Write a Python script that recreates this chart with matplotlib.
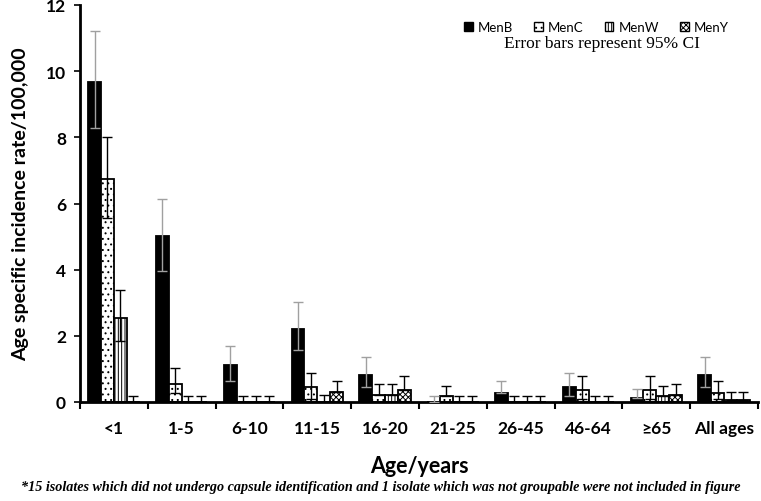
import numpy as np
import matplotlib
matplotlib.use("Agg")
import matplotlib.pyplot as plt
from matplotlib.patches import Patch

# Age groups
AGE_GROUPS = ["<1", "1-5", "6-10", "11-15", "16-20", "21-25", "26-45", "46-64", "≥65", "All ages"]

# Incidence rate per 100,000 and 95% CI bounds
MENB = [9.68, 5.02, 1.12, 2.21, 0.83, 0.0, 0.26, 0.44, 0.11, 0.82]
MENB_LO = [8.27, 3.97, 0.64, 1.58, 0.44, 0.0, 0.26, 0.19, 0.11, 0.44]
MENB_HI = [11.20, 6.14, 1.70, 3.02, 1.35, 0.19, 0.62, 0.87, 0.39, 1.35]

MENC = [6.74, 0.55, 0.0, 0.44, 0.22, 0.17, 0.0, 0.36, 0.37, 0.27]
MENC_LO = [5.56, 0.26, 0.0, 0.09, 0.22, 0.17, 0.0, 0.10, 0.10, 0.10]
MENC_HI = [8.02, 1.02, 0.19, 0.87, 0.54, 0.47, 0.19, 0.79, 0.79, 0.64]

MENW = [2.55, 0.0, 0.0, 0.0, 0.22, 0.0, 0.0, 0.0, 0.17, 0.06]
MENW_LO = [1.85, 0.0, 0.0, 0.0, 0.22, 0.0, 0.0, 0.0, 0.17, 0.06]
MENW_HI = [3.39, 0.19, 0.19, 0.20, 0.54, 0.19, 0.19, 0.19, 0.48, 0.29]

MENY = [0.0, 0.0, 0.0, 0.29, 0.37, 0.0, 0.0, 0.0, 0.21, 0.06]
MENY_LO = [0.0, 0.0, 0.0, 0.29, 0.37, 0.0, 0.0, 0.0, 0.21, 0.06]
MENY_HI = [0.19, 0.19, 0.19, 0.63, 0.79, 0.19, 0.19, 0.19, 0.54, 0.29]

SERIES = [
    ("MenB", MENB, MENB_LO, MENB_HI, "black", "", "#a0a0a0"),
    ("MenC", MENC, MENC_LO, MENC_HI, "white", "...", "black"),
    ("MenW", MENW, MENW_LO, MENW_HI, "white", "|||||", "black"),
    ("MenY", MENY, MENY_LO, MENY_HI, "white", "xxxxxx", "black"),
]

SANS = ["Lato", "DejaVu Sans"]
SERIF = ["Liberation Serif", "DejaVu Serif"]

plt.rcParams["hatch.linewidth"] = 0.7

fig = plt.figure(figsize=(7.61, 5.02), dpi=100)
ax = fig.add_axes([80 / 761, 99 / 502, 678 / 761, 397 / 502])

x = np.arange(len(AGE_GROUPS))
width = 0.19
legend_handles = []
for k, (name, vals, lo, hi, face, hatch, ecol) in enumerate(SERIES):
    pos = x + (k - 1.5) * width
    vals = np.array(vals)
    ax.bar(pos, vals, width, color=face, edgecolor="black", linewidth=1.3,
           hatch=hatch, zorder=2)
    yerr = [vals - np.array(lo), np.array(hi) - vals]
    ax.errorbar(pos, vals, yerr=yerr, fmt="none", ecolor=ecol,
                elinewidth=1.0, capsize=3.5, capthick=1.0, zorder=3)
    legend_handles.append(Patch(facecolor=face, edgecolor="black",
                                hatch=hatch, linewidth=1.0, label=name))

ax.set_xlim(-0.5, len(AGE_GROUPS) - 0.5)
ax.set_ylim(0, 12)
ax.set_yticks(range(0, 13, 2))
ax.set_xticks(np.arange(-0.5, len(AGE_GROUPS), 1.0))
ax.set_xticklabels([])
ax.set_xticks(x, minor=True)
ax.set_xticklabels(AGE_GROUPS, minor=True, fontfamily=SANS,
                   fontweight="bold", fontsize=12.5)
ax.tick_params(axis="x", which="minor", length=0, pad=13)
ax.tick_params(axis="x", which="major", length=5, width=1.5, direction="out")
ax.tick_params(axis="y", length=4, width=1.2, direction="out", pad=6)
for lbl in ax.get_yticklabels():
    lbl.set_fontfamily(SANS)
    lbl.set_fontweight("bold")
    lbl.set_fontsize(12.5)

for side in ("top", "right"):
    ax.spines[side].set_visible(False)
ax.spines["left"].set_linewidth(2)
ax.spines["bottom"].set_linewidth(2)

ax.set_xlabel("Age/years", fontfamily=SANS, fontweight="bold", fontsize=15.5,
              labelpad=14)
ax.set_ylabel("Age specific incidence rate/100,000", fontfamily=SANS,
              fontweight="bold", fontsize=14, labelpad=12)

ax.legend(handles=legend_handles, loc="upper right", ncol=4, frameon=False,
          prop={"family": SANS, "size": 9.5}, handlelength=0.65,
          handleheight=0.65, handletextpad=0.4, columnspacing=1.6,
          bbox_to_anchor=(0.975, 0.99))

ax.text(0.77, 0.905, "Error bars represent 95% CI", transform=ax.transAxes,
        ha="center", va="center", fontfamily=SERIF, fontsize=12.5)

fig.text(0.5, 0.028,
         "*15 isolates which did not undergo capsule identification and 1 isolate "
         "which was not groupable were not included in figure",
         ha="center", va="center", fontfamily=SERIF, fontstyle="italic",
         fontweight="bold", fontsize=10.2)

fig.savefig("out.png", dpi=100)
